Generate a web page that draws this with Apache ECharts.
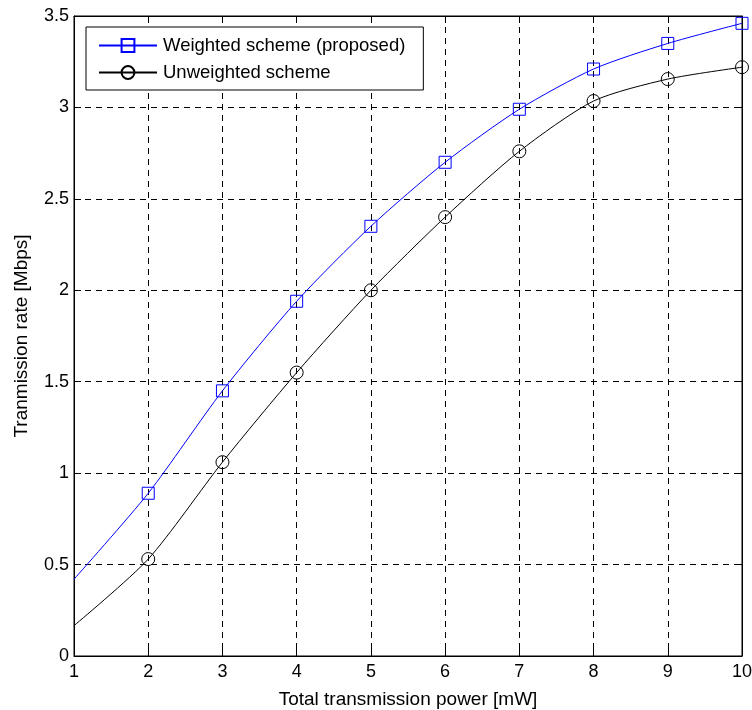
<!DOCTYPE html>
<html>
<head>
<meta charset="utf-8">
<script src="https://cdn.jsdelivr.net/npm/echarts@6/dist/echarts.min.js"></script>
<style>html,body{margin:0;padding:0;background:#fff;}#c{width:752px;height:710px;}</style>
</head>
<body>
<div id="c"></div>
<script>
var power = [1, 2, 3, 4, 5, 6, 7, 8, 9, 10];
var weighted = [0.42, 0.89, 1.45, 1.94, 2.35, 2.70, 2.99, 3.21, 3.35, 3.46];
var unweighted = [0.166, 0.53, 1.06, 1.55, 2.00, 2.40, 2.76, 3.035, 3.155, 3.22];
var markerFrom = 2;
var xTicks = [1, 10, 1];
var yTicks = [0, 3.5, 0.5];

var FONT = 'Liberation Sans, Arial, Helvetica, sans-serif';
var FS = 18;

function build(vals) {
  return power.map(function (x, i) {
    var item = { value: [x, vals[i]] };
    if (x < markerFrom) item.symbol = 'none';
    return item;
  });
}

var chart = echarts.init(document.getElementById('c'), null, { renderer: 'canvas' });
var dashed = { show: true, lineStyle: { color: '#000', width: 1, type: [6, 5] } };
var baseX = {
  type: 'value', min: xTicks[0], max: xTicks[1], interval: xTicks[2]
};
var baseY = {
  type: 'value', min: yTicks[0], max: yTicks[1], interval: yTicks[2]
};
chart.setOption({
  animation: false,
  backgroundColor: '#fff',
  textStyle: { fontFamily: FONT },
  grid: { left: 74, right: 10, top: 16, bottom: 54, show: true, borderColor: '#000', borderWidth: 1, backgroundColor: 'transparent', outerBoundsMode: 'none', containLabel: false },
  legend: {
    left: 86, top: 27,
    orient: 'vertical',
    backgroundColor: '#fff',
    borderColor: '#000', borderWidth: 1, borderRadius: 0,
    padding: [9, 18, 8, 12],
    itemGap: 8,
    itemWidth: 58, itemHeight: 16,
    textStyle: { fontSize: 18.5, color: '#000', fontFamily: FONT, padding: [0, 0, 0, 1] },
    data: ['Weighted scheme (proposed)', 'Unweighted scheme']
  },
  xAxis: [
    Object.assign({}, baseX, {
      position: 'bottom',
      name: 'Total transmission power [mW]', nameLocation: 'middle', nameGap: 34,
      nameTextStyle: { fontSize: 19, color: '#000', fontFamily: FONT },
      axisLine: { show: true, onZero: false, lineStyle: { color: '#000', width: 1 } },
      axisTick: { show: true, inside: true, length: 7, lineStyle: { color: '#000' } },
      axisLabel: { fontSize: FS, color: '#000', margin: 7, fontFamily: FONT },
      splitLine: dashed
    }),
    Object.assign({}, baseX, {
      position: 'top',
      axisLine: { show: true, onZero: false, lineStyle: { color: '#000', width: 1 } },
      axisTick: { show: true, inside: true, length: 7, lineStyle: { color: '#000' } },
      axisLabel: { show: false },
      splitLine: { show: false }
    })
  ],
  yAxis: [
    Object.assign({}, baseY, {
      position: 'left',
      name: 'Tranmission rate [Mbps]', nameLocation: 'middle', nameGap: 43,
      nameTextStyle: { fontSize: 19, color: '#000', fontFamily: FONT },
      axisLine: { show: true, onZero: false, lineStyle: { color: '#000', width: 1 } },
      axisTick: { show: true, inside: true, length: 7, lineStyle: { color: '#000' } },
      axisLabel: { fontSize: FS, color: '#000', margin: 5, fontFamily: FONT },
      splitLine: dashed
    }),
    Object.assign({}, baseY, {
      position: 'right',
      axisLine: { show: true, onZero: false, lineStyle: { color: '#000', width: 1 } },
      axisTick: { show: true, inside: true, length: 7, lineStyle: { color: '#000' } },
      axisLabel: { show: false },
      splitLine: { show: false }
    })
  ],
  series: [
    {
      name: 'Weighted scheme (proposed)', type: 'line',
      data: build(weighted),
      smooth: 0.25,
      symbol: 'rect', symbolSize: 12,
      color: '#0000ff',
      lineStyle: { color: '#0000ff', width: 1 },
      itemStyle: { color: 'rgba(0,0,0,0)', borderColor: '#0000ff', borderWidth: 1 },
      clip: false, z: 3
    },
    {
      name: 'Unweighted scheme', type: 'line',
      data: build(unweighted),
      smooth: 0.25,
      symbol: 'circle', symbolSize: 13,
      color: '#000',
      lineStyle: { color: '#000', width: 1 },
      itemStyle: { color: 'rgba(0,0,0,0)', borderColor: '#000', borderWidth: 1 },
      clip: false, z: 3
    }
  ]
});
</script>
</body>
</html>
